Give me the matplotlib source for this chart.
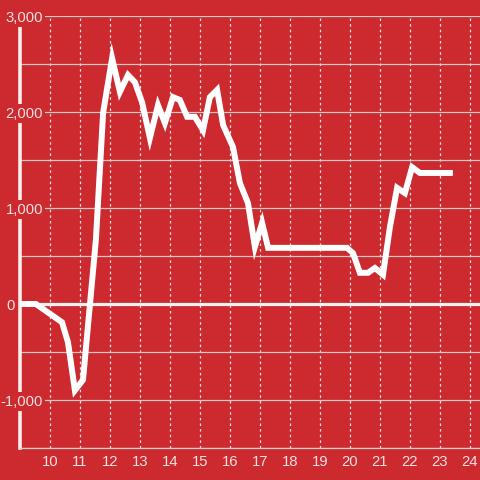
import matplotlib
matplotlib.use('Agg')
import matplotlib.pyplot as plt
import matplotlib.transforms as mtransforms

# values (hour of day, value)
hours = [9.0, 9.53, 10.4, 10.6, 10.83, 11.1, 11.53, 11.77, 12.07, 12.33,
         12.6, 12.83, 13.07, 13.33, 13.6, 13.83, 14.1, 14.33, 14.57, 14.83,
         15.1, 15.33, 15.57, 15.77, 16.1, 16.33, 16.6, 16.83, 17.07, 17.27,
         19.9, 20.1, 20.33, 20.6, 20.83, 21.1, 21.33, 21.57, 21.83, 22.07,
         22.33, 23.33]
values = [0, 0, -190, -400, -900, -790, 670, 1990, 2560, 2210,
          2385, 2310, 2100, 1730, 2070, 1885, 2155, 2125, 1950, 1950,
          1810, 2155, 2230, 1865, 1635, 1260, 1050, 595, 845, 585,
          585, 530, 325, 325, 375, 305, 800, 1210, 1155, 1425,
          1365, 1365]

x_ticks = list(range(10, 25))
y_label_vals = [-1000, 0, 1000, 2000, 3000]
y_labels = ['-1,000', '0', '1,000', '2,000', '3,000']

bg = '#cc2a2f'
txt = '#f8e0e0'
plt.rcParams['font.family'] = ['Liberation Sans', 'DejaVu Sans']

fig = plt.figure(figsize=(4.8, 4.8), dpi=100)
fig.patch.set_facecolor(bg)
ax = fig.add_axes([20 / 480, 32 / 480, 460 / 480, 432 / 480])
ax.set_facecolor(bg)
ax.set_xlim(9, 9 + 460 / 30)
ax.set_ylim(-1500, 3000)

for s in ['top', 'right']:
    ax.spines[s].set_visible(False)
ax.spines['left'].set_color('#f4eeee')
ax.spines['left'].set_linewidth(2.6)
ax.spines['bottom'].set_color('#d6cccc')
ax.spines['bottom'].set_linewidth(0.9)

ax.set_yticks(range(-1500, 3001, 500))
ax.set_xticks(x_ticks)
ax.tick_params(length=0, labelleft=False, labelbottom=False)
ax.grid(axis='y', color='#d2c6c6', linewidth=0.9, linestyle='-')
ax.grid(axis='x', color='#f0e6e6', linewidth=0.9, linestyle=(0, (2, 2.5)))

ax.axhline(0, color='#f6f0f0', linewidth=2.3, zorder=2.8)
ax.plot(hours, values, color='white', linewidth=4.3, zorder=3,
        solid_joinstyle='miter', solid_capstyle='projecting')

# y labels sit over the spine with a background box
ytrans = mtransforms.blended_transform_factory(ax.transAxes, ax.transData)
for v, lab in zip(y_label_vals, y_labels):
    xr = (15 - 20) / 460 if v == 0 else (43 - 20) / 460
    ax.text(xr, v, lab, transform=ytrans, ha='right', va='center_baseline',
            fontsize=10.7, color=txt, zorder=5, clip_on=False,
            bbox=dict(boxstyle='square,pad=0.15', facecolor=bg, edgecolor='none'))

xtrans = mtransforms.blended_transform_factory(ax.transData, ax.transAxes)
for t in x_ticks:
    ax.text(t, -13 / 432, str(t), transform=xtrans, ha='center',
            va='center_baseline', fontsize=10.7, color=txt, clip_on=False)

fig.savefig('out.png', dpi=100, facecolor=bg)
